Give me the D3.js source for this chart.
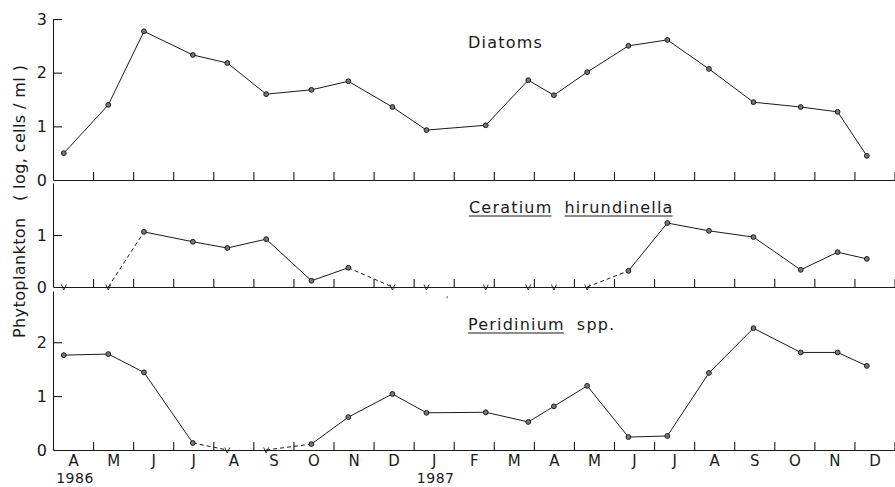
<!DOCTYPE html>
<html>
<head>
<meta charset="utf-8">
<script src="https://cdn.jsdelivr.net/npm/d3@7"></script>
<style>
  body { margin: 0; background: #fff; }
  text { font-family: "DejaVu Sans", sans-serif; fill: #1a1a1a; }
</style>
</head>
<body>
<script>
// month letters, Apr 1986 .. Dec 1987
const months = ["A", "M", "J", "J", "A", "S", "O", "N", "D", "J", "F", "M", "A", "M", "J", "J", "A", "S", "O", "N", "D"];
const yearLabels = ["1986", "1987"];
const yearMonthIndex = [0, 9];

// sampling time, in months since 1 April 1986
const sampleMonth = [0.27, 1.38, 2.27, 3.49, 4.35, 5.32, 6.45, 7.37, 8.47, 9.32, 10.80,
  11.86, 12.50, 13.33, 14.36, 15.33, 16.37, 17.48, 18.66, 19.58, 20.31];

// log cells / ml, null = not detected (v)
const diatoms = [0.50, 1.40, 2.77, 2.33, 2.18, 1.60, 1.68, 1.84, 1.36, 0.93, 1.02,
  1.86, 1.58, 2.01, 2.50, 2.61, 2.07, 1.45, 1.36, 1.27, 0.45];
const ceratium = [null, null, 1.06, 0.87, 0.75, 0.92, 0.12, 0.37, null, null, null,
  null, null, null, 0.31, 1.23, 1.08, 0.96, 0.33, 0.67, 0.54];
const peridinium = [1.76, 1.78, 1.44, 0.13, null, null, 0.11, 0.61, 1.04, 0.69, 0.70,
  0.52, 0.81, 1.19, 0.24, 0.26, 1.43, 2.26, 1.81, 1.81, 1.56];

const yTicksDiatoms = [0, 1, 2, 3];
const yTicksCeratium = [0, 1];
const yTicksPeridinium = [0, 1, 2];

const width = 895;
const height = 487;
const ink = "#1a1a1a";

const svg = d3.select("body").append("svg")
  .attr("width", width)
  .attr("height", height);

const x = d3.scaleLinear().domain([0, 21]).range([53, 894.5]);

const panels = [
  { values: diatoms, yMax: 3, ticks: yTicksDiatoms, zero: 180, top: 19,
    title: [{ t: "Diatoms", u: false }], tx: 468, ty: 48 },
  { values: ceratium, yMax: 2, ticks: yTicksCeratium, zero: 287, top: 183,
    title: [{ t: "Ceratium", u: true }, { t: "hirundinella", u: true }], tx: 469, ty: 213 },
  { values: peridinium, yMax: 2.95, ticks: yTicksPeridinium, zero: 450, top: 291,
    title: [{ t: "Peridinium", u: true }, { t: "spp.", u: false }], tx: 468, ty: 330 }
];

function styleAxis(g, size = 16) {
  g.selectAll("path, line").attr("stroke", ink).attr("stroke-width", 1.1);
  g.selectAll("text")
    .attr("font-family", "DejaVu Sans, sans-serif")
    .attr("font-size", size)
    .attr("fill", ink);
}

panels.forEach((p) => {
  const y = d3.scaleLinear().domain([0, p.yMax]).range([p.zero, p.top]);
  const g = svg.append("g");

  // y axis, ticks pointing inward
  g.append("g")
    .attr("transform", `translate(${x(0)},0)`)
    .call(d3.axisLeft(y).tickValues(p.ticks).tickFormat(d3.format("d"))
      .tickSizeInner(-9).tickSizeOuter(0).tickPadding(6))
    .call(styleAxis)
    .call((a) => a.selectAll(".tick line").filter((d) => d === 0).remove());

  // x axis: month boundaries, ticks pointing up
  g.append("g")
    .attr("transform", `translate(0,${p.zero})`)
    .call(d3.axisBottom(x).tickValues(d3.range(1, 22)).tickFormat("")
      .tickSizeInner(-8).tickSizeOuter(0))
    .call(styleAxis);

  const pts = p.values.map((v, i) => ({ m: sampleMonth[i], v: v }));

  // solid runs between detected values
  g.append("path")
    .datum(pts)
    .attr("fill", "none")
    .attr("stroke", ink)
    .attr("stroke-width", 1)
    .attr("d", d3.line()
      .defined((d, i) => d.v !== null)
      .x((d) => x(d.m))
      .y((d) => y(d.v)));

  // dashed segments to/from non-detects
  const segs = [];
  for (let i = 0; i < pts.length - 1; i++) {
    const a = pts[i], b = pts[i + 1];
    if ((a.v === null) !== (b.v === null)) segs.push([a, b]);
  }
  g.selectAll(".dash")
    .data(segs)
    .enter()
    .append("path")
    .attr("fill", "none")
    .attr("stroke", ink)
    .attr("stroke-width", 1)
    .attr("stroke-dasharray", "4,3")
    .attr("d", d3.line().x((d) => x(d.m)).y((d) => y(d.v === null ? 0 : d.v)));

  // v marks for not detected
  g.selectAll(".nd")
    .data(pts.filter((d) => d.v === null))
    .enter()
    .append("path")
    .attr("fill", "none")
    .attr("stroke", ink)
    .attr("stroke-width", 0.9)
    .attr("d", (d) => {
      const cx = x(d.m), cy = y(0);
      return `M${cx - 2.5},${cy - 2.5}L${cx},${cy + 3}L${cx + 2.5},${cy - 2.5}`;
    });

  // sample points
  g.selectAll("circle")
    .data(pts.filter((d) => d.v !== null))
    .enter()
    .append("circle")
    .attr("cx", (d) => x(d.m))
    .attr("cy", (d) => y(d.v))
    .attr("r", 2.4)
    .attr("fill", "#777")
    .attr("stroke", ink)
    .attr("stroke-width", 1);

  // panel title, species names underlined
  let cursor = p.tx;
  p.title.forEach((w) => {
    const t = g.append("text")
      .attr("x", cursor)
      .attr("y", p.ty)
      .attr("font-size", 16)
      .attr("letter-spacing", 1.2)
      .text(w.t);
    const len = t.node().getComputedTextLength();
    if (w.u) {
      g.append("line")
        .attr("x1", cursor).attr("x2", cursor + len - 1)
        .attr("y1", p.ty + 3).attr("y2", p.ty + 3)
        .attr("stroke", ink).attr("stroke-width", 1);
    }
    cursor += len + 12;
  });
});

// month letters under the bottom panel
svg.append("g")
  .attr("transform", `translate(0,450)`)
  .call(d3.axisBottom(x).tickValues(d3.range(21).map((i) => i + 0.5))
    .tickFormat((d, i) => months[i]).tickSize(0).tickPadding(5))
  .call((a) => styleAxis(a, 15))
  .call((a) => a.select(".domain").remove());

svg.selectAll(".year")
  .data(yearLabels)
  .enter()
  .append("text")
  .attr("x", (d, i) => x(yearMonthIndex[i] + 0.5) + 2)
  .attr("y", 483)
  .attr("text-anchor", "middle")
  .attr("font-size", 14)
  .attr("letter-spacing", 0.5)
  .text((d) => d);

// y axis title
svg.append("text")
  .attr("transform", "translate(25,338) rotate(-90)")
  .attr("font-size", 16)
  .attr("letter-spacing", 0.4)
  .style("white-space", "pre")
  .text("Phytoplankton   ( log, cells / ml )");

// stray mark on the original print
svg.append("text")
  .attr("x", 446)
  .attr("y", 303)
  .attr("font-size", 8)
  .text("'");
</script>
</body>
</html>
